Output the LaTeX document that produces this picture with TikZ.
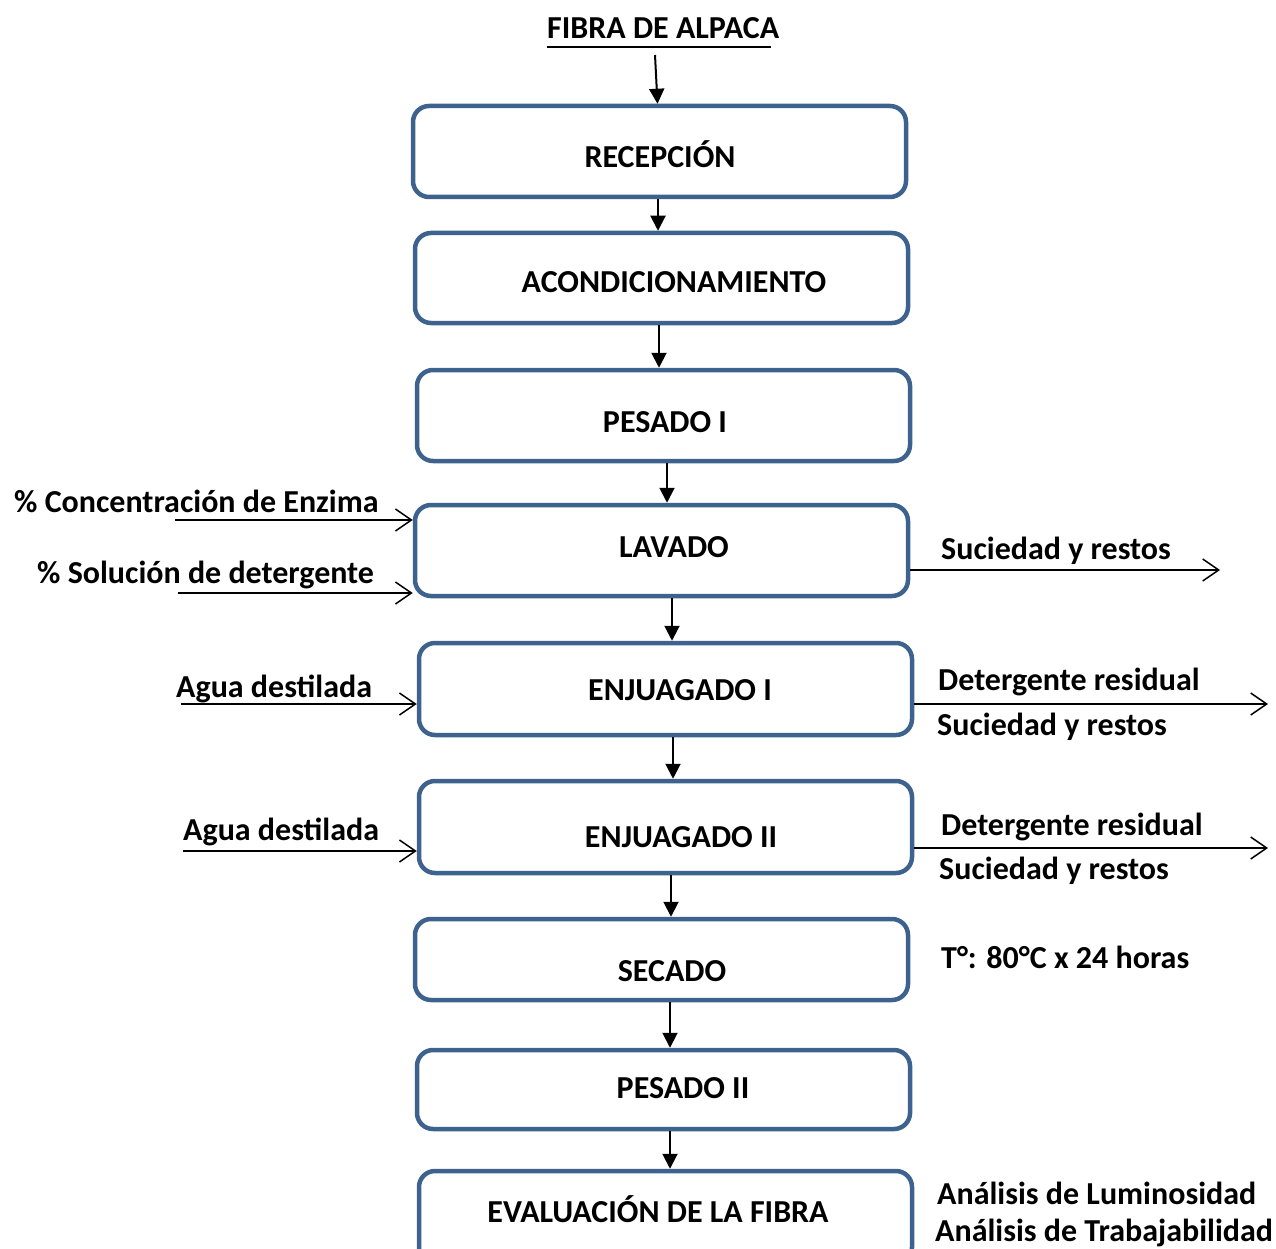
\documentclass[tikz,border=0pt]{standalone}
\usepackage{fontspec}
\setmainfont{Carlito}
\usetikzlibrary{arrows.meta}
\definecolor{boxblue}{RGB}{62,98,142}
\tikzset{
  stage/.style={draw=boxblue, line width=4.5pt, rounded corners=16pt, minimum width=493pt, inner sep=0pt},
  stagetxt/.style={anchor=base, inner sep=0pt, font=\fontsize{32}{38}\selectfont\bfseries},
  sidetxt/.style={anchor=base west, inner sep=0pt, font=\fontsize{32}{38}\selectfont\bfseries},
  flowarrow/.style={line width=2pt, -{Triangle[length=15pt,width=15pt]}},
  sidearrow/.style={line width=1.5pt, -{Straight Barb[length=16pt,width=22pt,line width=1.5pt]}}
}
\begin{document}
\begin{tikzpicture}[x=1pt,y=-1pt]
\useasboundingbox (0,0) rectangle (1276,1249);
\clip (0,0) rectangle (1276,1249);
% input
\node[sidetxt] (fibra) at (547,39) {FIBRA DE ALPACA};
\draw[line width=1.5pt] ([yshift=-8pt]fibra.base west) -- ++(224,0);
\coordinate (fibtail) at (655,55);
% process boxes
\node[stage, minimum height=91pt] (rec) at (659.5,151.5) {};
\node[stage, minimum height=90pt] (aco) at (661.5,278) {};
\node[stage, minimum height=91pt] (pes1) at (663.5,415.5) {};
\node[stage, minimum height=91pt] (lav) at (661.5,550.5) {};
\node[stage, minimum height=92pt] (enj1) at (665.5,689) {};
\node[stage, minimum height=92pt] (enj2) at (665.5,827) {};
\node[stage, minimum height=81pt] (sec) at (661.5,959.5) {};
\node[stage, minimum height=79pt] (pes2) at (663.5,1089.5) {};
\node[stage, minimum height=92pt] (eva) at (665.5,1217) {};
\node[stagetxt] at (660,168) {RECEPCIÓN};
\node[stagetxt] at (674,292) {ACONDICIONAMIENTO};
\node[stagetxt] at (665,432) {PESADO I};
\node[stagetxt] at (674,557) {LAVADO};
\node[stagetxt] at (680,700) {ENJUAGADO I};
\node[stagetxt] at (681,847) {ENJUAGADO II};
\node[stagetxt] at (672,981) {SECADO};
\node[stagetxt] at (683,1098) {PESADO II};
\node[stagetxt] at (658,1222) {EVALUACIÓN DE LA FIBRA};
% main flow
\draw[flowarrow] (fibtail) -- ([xshift=-2pt]rec.north);
\foreach \a/\b/\dx in {rec/aco/-1.5, aco/pes1/-2.5, pes1/lav/3.5, lav/enj1/10.5,
    enj1/enj2/7.5, enj2/sec/5.5, sec/pes2/8.5, pes2/eva/6.5}
  \draw[flowarrow] ([xshift=\dx pt]\a.south) -- ([xshift=\dx pt]\a.south |- \b.north);
% inputs
\node[sidetxt] at (14,512) {\% Concentración de Enzima};
\node[sidetxt] at (37,583) {\% Solución de detergente};
\node[sidetxt] at (176,697) {Agua destilada};
\node[sidetxt] at (183,840) {Agua destilada};
\coordinate (enzin) at (175,520);
\coordinate (detin) at (178,593);
\coordinate (agua1in) at (181,704);
\coordinate (agua2in) at (183,851);
\draw[sidearrow] (enzin) -- (enzin -| lav.west);
\draw[sidearrow] (detin) -- (detin -| lav.west);
\draw[sidearrow] (agua1in) -- (agua1in -| enj1.west);
\draw[sidearrow] (agua2in) -- (agua2in -| enj2.west);
% outputs
\node[sidetxt] at (941,559) {Suciedad y restos};
\node[sidetxt] at (938,690) {Detergente residual};
\node[sidetxt] at (937,735) {Suciedad y restos};
\node[sidetxt] at (941,835) {Detergente residual};
\node[sidetxt] at (939,879) {Suciedad y restos};
\node[sidetxt] at (941,968) {T°: 80°C x 24 horas};
\node[sidetxt] at (937,1204) {Análisis de Luminosidad};
\node[sidetxt] at (935,1241) {Análisis de Trabajabilidad};
\coordinate (lavout) at (1220,570);
\coordinate (enj1out) at (1268,704);
\coordinate (enj2out) at (1268,848);
\draw[sidearrow] (lavout -| lav.east) -- (lavout);
\draw[sidearrow] (enj1out -| enj1.east) -- (enj1out);
\draw[sidearrow] (enj2out -| enj2.east) -- (enj2out);
\end{tikzpicture}
\end{document}
